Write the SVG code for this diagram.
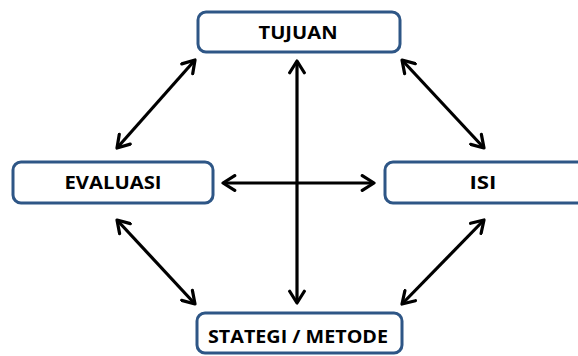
<svg xmlns="http://www.w3.org/2000/svg" width="578" height="356" viewBox="0 0 578 356">
<style>
.box{fill:#fff;stroke:#2e5686;stroke-width:3}
.lbl{font-family:"Open Sans","Liberation Sans",sans-serif;font-weight:bold;font-size:18px;fill:#000;text-anchor:middle}
.ln{stroke:#000;stroke-width:3.2;fill:none;marker-start:url(#ah);marker-end:url(#ah)}
</style>
<defs>
<marker id="ah" viewBox="0 0 12 12" refX="10" refY="6" markerWidth="5.5" markerHeight="5.5" orient="auto-start-reverse" markerUnits="strokeWidth">
<path d="M2,1 L10,6 L2,11" fill="none" stroke="#000" stroke-width="2.2" stroke-linecap="round" stroke-linejoin="round"/>
</marker>
</defs>
<rect width="578" height="356" fill="#fff"/>
<g id="connectors">
<line class="ln" x1="297" y1="61" x2="297" y2="303"/>
<line class="ln" x1="223" y1="183" x2="374" y2="183"/>
<line class="ln" x1="195" y1="60" x2="117" y2="148"/>
<line class="ln" x1="402" y1="60" x2="484" y2="148"/>
<line class="ln" x1="117" y1="220" x2="195" y2="304"/>
<line class="ln" x1="484" y1="220" x2="402" y2="304"/>
</g>
<g id="tujuan">
<rect class="box" x="198" y="12" width="202" height="40" rx="8"/>
<text class="lbl" x="298" y="39" textLength="79" lengthAdjust="spacingAndGlyphs">TUJUAN</text>
</g>
<g id="evaluasi">
<rect class="box" x="13" y="162" width="200" height="41" rx="8"/>
<text class="lbl" x="113" y="189" textLength="97" lengthAdjust="spacingAndGlyphs">EVALUASI</text>
</g>
<g id="isi">
<rect class="box" x="385" y="162" width="200" height="41" rx="8"/>
<text class="lbl" x="483" y="189" textLength="27" lengthAdjust="spacingAndGlyphs">ISI</text>
</g>
<g id="strategi">
<rect class="box" x="197" y="313" width="205" height="40" rx="8"/>
<text class="lbl" x="298" y="343" textLength="180" lengthAdjust="spacingAndGlyphs">STATEGI / METODE</text>
</g>
</svg>
